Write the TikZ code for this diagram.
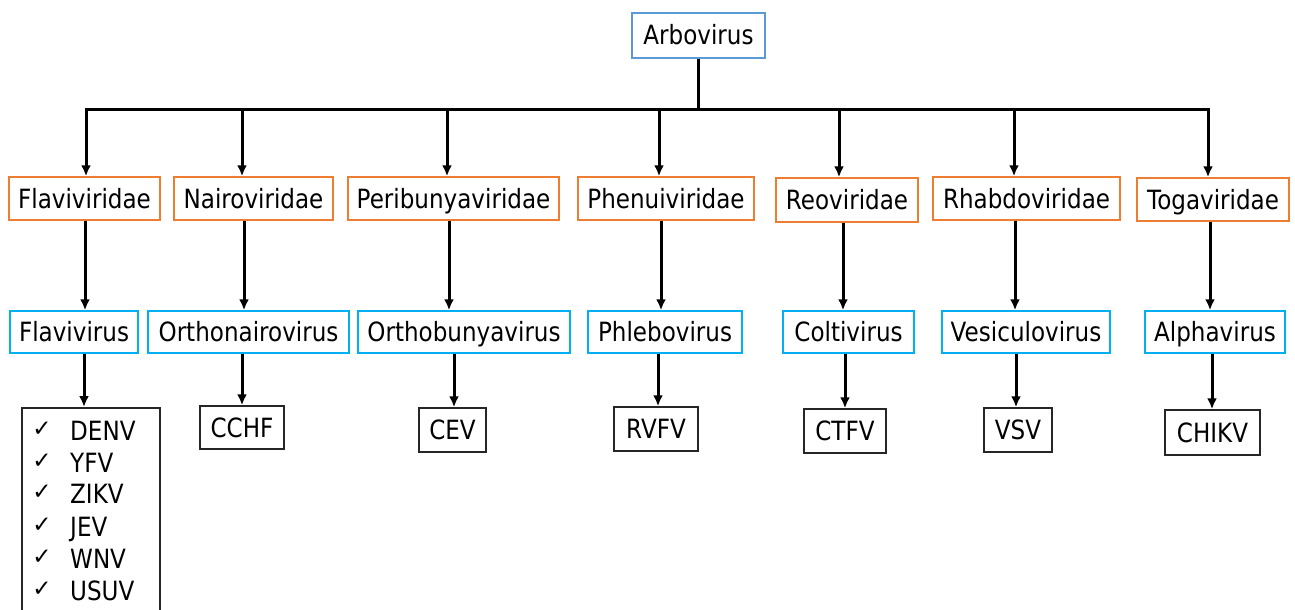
\documentclass[tikz,border=0pt]{standalone}
\usepackage{fontspec}
\setmainfont{DejaVu Sans}[FakeStretch=0.87]
\newfontfamily\symfont{DejaVu Sans}
\usetikzlibrary{arrows.meta,positioning}
\definecolor{famc}{HTML}{ED7D31}
\definecolor{genc}{HTML}{00B0F0}
\definecolor{topc}{HTML}{5B9BD5}
\tikzset{
  box/.style={draw, line width=1.5pt, rectangle, inner sep=0pt, text height=19pt, text depth=0pt, font=\fontsize{26.5}{30}\selectfont, text=black},
  topbox/.style={box, draw=topc},
  fam/.style={box, draw=famc},
  gen/.style={box, draw=genc},
  spc/.style={box, draw=black!85},
  arr/.style={line width=3pt, -{Latex[length=11pt,width=10pt]}},
  ln/.style={line width=3pt},
  item/.style={anchor=base west, inner sep=0pt, font=\fontsize{26.5}{30}\selectfont},
  chk/.style={anchor=base, inner sep=0pt, font=\symfont\fontsize{23}{26}\selectfont}
}
\begin{document}
\begin{tikzpicture}[x=1pt,y=-1pt]
\useasboundingbox (0,0) rectangle (1295,610);
\clip (0,0) rectangle (1295,610);
% top
\node[topbox, minimum width=133pt, minimum height=45pt] (arb) at (698.5,35.5) {Arbovirus};
% families
\node[fam, minimum width=151pt, minimum height=43pt] (f1) at (84.5,198.5) {Flaviviridae};
\node[fam, minimum width=159pt, minimum height=43pt] (f2) at (253.5,198.5) {Nairoviridae};
\node[fam, minimum width=211pt, minimum height=43pt] (f3) at (453.5,198.5) {Peribunyaviridae};
\node[fam, minimum width=176pt, minimum height=43pt] (f4) at (666,198.5) {Phenuiviridae};
\node[fam, minimum width=142pt, minimum height=44pt] (f5) at (847,200) {Reoviridae};
\node[fam, minimum width=187pt, minimum height=43pt] (f6) at (1026.5,198.5) {Rhabdoviridae};
\node[fam, minimum width=152pt, minimum height=43pt] (f7) at (1213,199.5) {Togaviridae};
% genera
\node[gen, minimum width=128pt, minimum height=42pt] (g1) at (74,332) {Flavivirus};
\node[gen, minimum width=201pt, minimum height=42pt] (g2) at (248.5,332) {Orthonairovirus};
\node[gen, minimum width=212pt, minimum height=42pt] (g3) at (464,332) {Orthobunyavirus};
\node[gen, minimum width=154pt, minimum height=42pt] (g4) at (665,332) {Phlebovirus};
\node[gen, minimum width=131pt, minimum height=42pt] (g5) at (848.5,332) {Coltivirus};
\node[gen, minimum width=168pt, minimum height=42pt] (g6) at (1026,332) {Vesiculovirus};
\node[gen, minimum width=140pt, minimum height=42pt] (g7) at (1215,332) {Alphavirus};
% species
\node[spc, minimum width=138pt, minimum height=215pt, anchor=north] (s1) at (91,407) {};
\node[spc, minimum width=84pt, minimum height=43pt] (s2) at (242,427.5) {CCHF};
\node[spc, minimum width=67pt, minimum height=44pt] (s3) at (452.5,430) {CEV};
\node[spc, minimum width=84pt, minimum height=44pt] (s4) at (656,429) {RVFV};
\node[spc, minimum width=82pt, minimum height=44pt] (s5) at (845,431) {CTFV};
\node[spc, minimum width=68pt, minimum height=44pt] (s6) at (1018,430) {VSV};
\node[spc, minimum width=95pt, minimum height=45pt] (s7) at (1212.5,432.5) {CHIKV};
% list items
\foreach \t/\yy [count=\i] in {DENV/440,YFV/472,ZIKV/503,JEV/536,WNV/568,USUV/600}{
  \node[chk] (c\i) at (42,\yy-4) {✓};
  \node[item] (t\i) at (70,\yy) {\t};
}
% bus
\coordinate (bt) at (698,109);
\coordinate (b1) at (86,109);
\coordinate (b2) at (242,109);
\coordinate (b3) at (447,109);
\coordinate (b4) at (659,109);
\coordinate (b5) at (839,109);
\coordinate (b6) at (1014,109);
\coordinate (b7) at (1208,109);
\draw[ln] (arb.south -| bt) -- (bt);
\draw[ln] ([xshift=-1.5pt]b1) -- ([xshift=1.5pt]b7);
\foreach \i in {1,...,7}{
  \draw[arr] (b\i) -- (b\i |- f\i.north);
}
% family to genus
\foreach \i/\xx in {1/85,2/244,3/449,4/661,5/843,6/1015,7/1210}{
  \draw[arr] (f\i.south -| \xx,0) -- (g\i.north -| \xx,0);
}
% genus to species
\foreach \i/\xx in {1/84,2/242,3/454,4/658,5/845,6/1016,7/1212}{
  \draw[arr] (g\i.south -| \xx,0) -- (s\i.north -| \xx,0);
}
\end{tikzpicture}
\end{document}
